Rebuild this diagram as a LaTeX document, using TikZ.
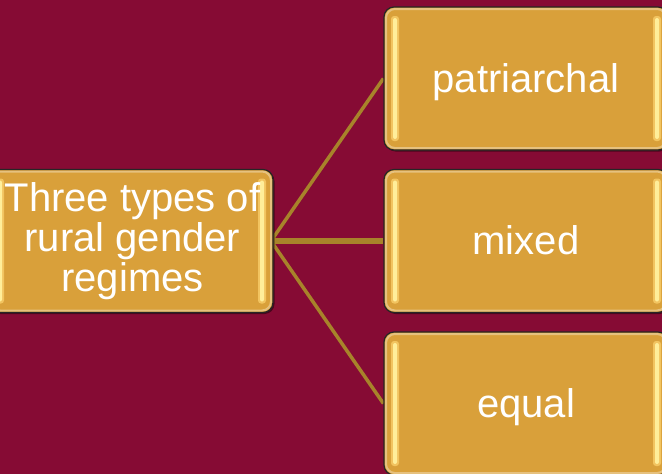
\documentclass[tikz,border=0pt]{standalone}
\usepackage{fontspec}
\setmainfont{Liberation Sans}
\usetikzlibrary{shadows}
\pgfdeclarelayer{background}
\pgfsetlayers{background,main}
\definecolor{bgcol}{HTML}{860B34}
\definecolor{boxcol}{HTML}{D9A03A}
\definecolor{linecol}{HTML}{A8832A}
\definecolor{barcol}{HTML}{FFEE9A}
\definecolor{barrim}{HTML}{F2C460}
\tikzset{
  gbox/.style={draw=black!85, line width=1.2pt, fill=boxcol, rounded corners=10pt,
    minimum width=284pt, minimum height=143pt, inner sep=0pt, text=white,
    align=center, font=\fontsize{40}{40}\selectfont,
    drop shadow={shadow xshift=1.5pt, shadow yshift=-1.5pt, opacity=.45, fill=black},
    path picture={
      \fill[barrim, rounded corners=3pt]
        ([xshift=7pt,yshift=-9pt]path picture bounding box.north west) rectangle
        ([xshift=15pt,yshift=9pt]path picture bounding box.south west);
      \fill[barcol, rounded corners=2pt]
        ([xshift=9pt,yshift=-11pt]path picture bounding box.north west) rectangle
        ([xshift=13pt,yshift=11pt]path picture bounding box.south west);
      \fill[barrim, rounded corners=3pt]
        ([xshift=-15pt,yshift=-9pt]path picture bounding box.north east) rectangle
        ([xshift=-7pt,yshift=9pt]path picture bounding box.south east);
      \fill[barcol, rounded corners=2pt]
        ([xshift=-13pt,yshift=-11pt]path picture bounding box.north east) rectangle
        ([xshift=-9pt,yshift=11pt]path picture bounding box.south east);
      \draw[white, opacity=.35, line width=2pt, rounded corners=9pt]
        ([xshift=2pt,yshift=-2pt]path picture bounding box.north west) rectangle
        ([xshift=-2pt,yshift=2pt]path picture bounding box.south east);
    }},
  onebox/.style={gbox, text height=36.2pt, text depth=8.5pt},
  conn/.style={draw=linecol, line width=3.5pt, line join=round},
  connmid/.style={draw=linecol, line width=6pt}
}
\begin{document}
\begin{tikzpicture}[x=1pt,y=-1pt]
\begin{pgfonlayer}{background}
\fill[bgcol] (0,0) rectangle (662,474);
\end{pgfonlayer}
\useasboundingbox (0,0) rectangle (662,474);
\coordinate (hub) at (271,241);
\node[gbox] (L) at (131,241) {\hspace*{3pt}Three types of\\\hspace*{3pt}rural gender\\\hspace*{3pt}regimes};
\node[onebox] (R1) at (526,78.5) {patriarchal};
\node[onebox] (R2) at (526,241) {mixed};
\node[onebox] (R3) at (526,403.5) {equal};
\begin{pgfonlayer}{background}
\draw[conn] (R1.west) -- (hub) -- (R3.west);
\draw[connmid] (hub) -- (R2.west);
\end{pgfonlayer}
\end{tikzpicture}
\end{document}
